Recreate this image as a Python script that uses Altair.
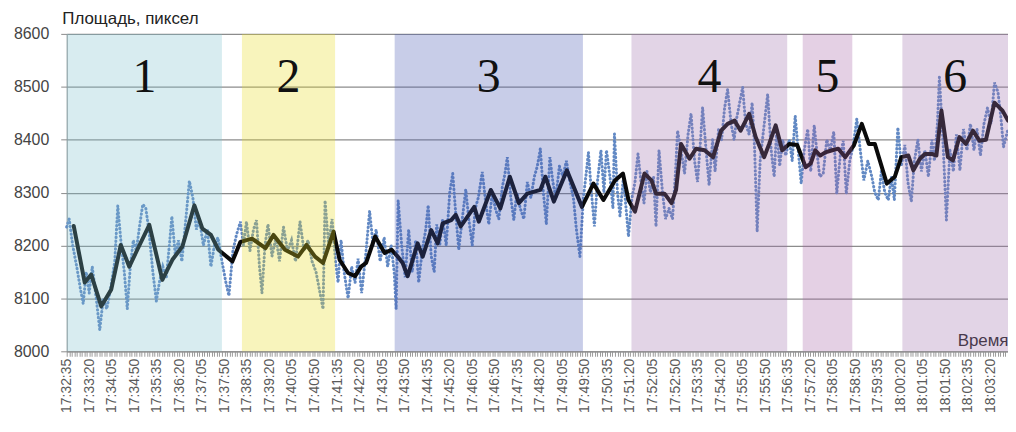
import altair as alt
import pandas as pd

# ---- data ----
START = "17:32:35"          # time of the first sample; offsets below are seconds from it
X_END = 1880                # last second on the axis (18:03:55)

BAND_LABELS = ["1", "2", "3", "4", "5", "6"]
BAND_START = [0, 350, 655, 1128, 1470, 1669]
BAND_END = [310, 536, 1031, 1439, 1569, 1880]
BAND_COLORS = ["#7dc0cd", "#e8da20", "#4858b2", "#9e70ac", "#a562a5", "#9e70ac"]

RAW_T = [0, 5, 12, 20, 27, 33, 39, 45, 51, 59, 66, 73, 80, 88, 96, 102, 109, 115, 121, 127,
         133, 139, 146, 152, 158, 164, 172, 179, 185, 192, 199, 205, 210, 217, 223, 230, 237, 245, 252, 259,
         265, 273, 281, 288, 295, 302, 310, 318, 324, 332, 339, 347, 353, 359, 366, 373, 379, 385, 390, 396,
         402, 410, 418, 425, 433, 441, 449, 457, 466, 474, 482, 490, 498, 504, 512, 516, 523, 530, 537, 542,
         548, 554, 562, 569, 576, 582, 589, 597, 605, 612, 618, 626, 634, 641, 648, 654, 658, 662, 669, 676,
         683, 690, 697, 703, 710, 717, 722, 728, 734, 739, 745, 751, 758, 765, 771, 777, 783, 790, 797, 803,
         810, 816, 822, 830, 837, 843, 850, 856, 863, 870, 876, 880, 887, 893, 899, 906, 913, 920, 927, 934,
         940, 946, 952, 958, 965, 971, 977, 984, 991, 998, 1005, 1012, 1018, 1025, 1032, 1038, 1042, 1048, 1054, 1060,
         1067, 1073, 1078, 1085, 1091, 1094, 1100, 1105, 1112, 1118, 1122, 1129, 1135, 1141, 1147, 1153, 1159, 1166, 1172, 1177,
         1183, 1190, 1196, 1203, 1210, 1216, 1220, 1227, 1234, 1241, 1247, 1254, 1260, 1266, 1270, 1277, 1283, 1290, 1295, 1302,
         1308, 1314, 1320, 1327, 1333, 1338, 1344, 1350, 1356, 1363, 1369, 1374, 1379, 1385, 1392, 1400, 1407, 1413, 1418, 1424,
         1430, 1436, 1443, 1449, 1455, 1461, 1467, 1473, 1480, 1486, 1493, 1498, 1504, 1511, 1518, 1525, 1532, 1538, 1545, 1551,
         1557, 1564, 1571, 1578, 1585, 1592, 1600, 1608, 1614, 1621, 1627, 1634, 1641, 1647, 1653, 1660, 1667, 1674, 1680, 1687,
         1693, 1700, 1707, 1714, 1721, 1728, 1733, 1739, 1743, 1750, 1757, 1764, 1771, 1777, 1784, 1791, 1798, 1805, 1812, 1818,
         1825, 1832, 1839, 1846, 1853, 1860, 1866, 1871, 1880]
RAW_V = [8235, 8250, 8200, 8160, 8120, 8090, 8150, 8110, 8160, 8100, 8040, 8100, 8080, 8120, 8170, 8275, 8200, 8150, 8080, 8160,
         8210, 8190, 8240, 8278, 8270, 8230, 8150, 8095, 8130, 8160, 8140, 8200, 8255, 8180, 8210, 8170, 8240, 8322, 8290, 8230,
         8250, 8200, 8230, 8160, 8200, 8215, 8170, 8130, 8105, 8190, 8220, 8245, 8200, 8245, 8190, 8230, 8248, 8160, 8110, 8200,
         8240, 8180, 8215, 8170, 8235, 8190, 8210, 8170, 8245, 8190, 8210, 8170, 8150, 8120, 8080, 8285, 8200, 8250, 8170, 8130,
         8210, 8150, 8100, 8160, 8130, 8175, 8110, 8180, 8265, 8200, 8230, 8170, 8215, 8160, 8200, 8150, 8080, 8285, 8200, 8140,
         8230, 8150, 8210, 8130, 8190, 8230, 8276, 8180, 8150, 8240, 8200, 8250, 8200, 8300, 8336, 8260, 8192, 8250, 8306, 8250,
         8200, 8270, 8290, 8339, 8280, 8240, 8300, 8270, 8250, 8310, 8340, 8367, 8290, 8248, 8300, 8270, 8250, 8320, 8290, 8330,
         8350, 8383, 8300, 8240, 8367, 8320, 8290, 8350, 8330, 8360, 8320, 8290, 8230, 8179, 8290, 8340, 8376, 8300, 8236, 8320,
         8380, 8300, 8380, 8330, 8270, 8411, 8300, 8256, 8330, 8260, 8217, 8290, 8320, 8373, 8320, 8280, 8340, 8300, 8330, 8236,
         8380, 8300, 8250, 8270, 8250, 8340, 8417, 8380, 8336, 8410, 8449, 8360, 8320, 8400, 8461, 8380, 8314, 8400, 8340, 8420,
         8400, 8460, 8495, 8430, 8400, 8440, 8470, 8499, 8430, 8410, 8470, 8380, 8226, 8360, 8420, 8486, 8380, 8330, 8420, 8350,
         8400, 8370, 8400, 8360, 8445, 8380, 8317, 8380, 8420, 8340, 8427, 8380, 8330, 8336, 8400, 8380, 8415, 8298, 8370, 8398,
         8298, 8360, 8390, 8439, 8380, 8323, 8360, 8330, 8300, 8286, 8340, 8300, 8286, 8330, 8286, 8423, 8350, 8390, 8320, 8283,
         8360, 8400, 8340, 8380, 8330, 8400, 8360, 8430, 8518, 8400, 8248, 8380, 8340, 8410, 8342, 8420, 8380, 8430, 8380, 8420,
         8370, 8430, 8460, 8430, 8508, 8490, 8440, 8386, 8420]

SMOOTH_T = [14, 36, 49, 69, 89, 108, 125, 141, 165, 191, 211, 231, 255, 271, 288, 303, 331, 347, 370, 397,
            413, 436, 462, 479, 496, 512, 533, 545, 562, 576, 588, 598, 616, 635, 649, 661, 671, 681, 701, 711,
            728, 741, 751, 768, 777, 787, 814, 823, 847, 866, 885, 903, 920, 946, 956, 973, 999, 1029, 1052, 1072,
            1095, 1111, 1122, 1135, 1154, 1168, 1177, 1194, 1208, 1217, 1227, 1244, 1257, 1274, 1291, 1307, 1320, 1334, 1346, 1363,
            1376, 1393, 1403, 1416, 1429, 1443, 1459, 1476, 1486, 1495, 1505, 1515, 1529, 1541, 1555, 1572, 1588, 1602, 1614, 1638,
            1654, 1667, 1681, 1691, 1704, 1714, 1728, 1737, 1747, 1760, 1770, 1783, 1796, 1810, 1823, 1836, 1853, 1869, 1880]
SMOOTH_V = [8237, 8130, 8145, 8085, 8117, 8201, 8160, 8192, 8239, 8135, 8173, 8198, 8276, 8232, 8220, 8192, 8170, 8207, 8213, 8195,
            8220, 8192, 8179, 8201, 8179, 8167, 8226, 8173, 8148, 8142, 8160, 8167, 8217, 8186, 8192, 8179, 8167, 8142, 8204, 8179,
            8229, 8204, 8242, 8248, 8258, 8236, 8273, 8245, 8305, 8270, 8330, 8280, 8298, 8305, 8330, 8283, 8342, 8273, 8317, 8286,
            8323, 8336, 8286, 8264, 8336, 8323, 8298, 8298, 8280, 8305, 8392, 8364, 8383, 8380, 8367, 8417, 8430, 8436, 8417, 8449,
            8405, 8367, 8392, 8427, 8380, 8392, 8390, 8348, 8355, 8380, 8370, 8376, 8380, 8383, 8367, 8389, 8430, 8392, 8392, 8317,
            8330, 8367, 8370, 8342, 8364, 8373, 8373, 8370, 8455, 8367, 8361, 8405, 8392, 8417, 8398, 8400, 8470, 8455, 8436]

Y_TITLE = "Площадь, пиксел"
X_TITLE = "Время"

# ---- tables ----
raw = pd.DataFrame({"t": RAW_T, "v": RAW_V})
smooth = pd.DataFrame({"t": SMOOTH_T, "v": SMOOTH_V})
bands = pd.DataFrame({"label": BAND_LABELS, "start": BAND_START, "end": BAND_END, "color": BAND_COLORS})

h0, m0, s0 = (int(p) for p in START.split(":"))
base = h0 * 3600 + m0 * 60 + s0
sec = f"({base}+datum.value)"
label_expr = (
    f"datum.value % 45 == 0 ? "
    f"pad(floor({sec}/3600),2,'0','left') + ':' + "
    f"pad(floor({sec}/60)%60,2,'0','left') + ':' + "
    f"pad({sec}%60,2,'0','left') : ''"
)

FONT = "Liberation Sans"
xscale = alt.Scale(domain=[0, X_END], nice=False, zero=False)
yscale = alt.Scale(domain=[8000, 8600], nice=False, zero=False)

x_axis = alt.Axis(
    values=list(range(0, X_END + 1, 5)),
    labelExpr=label_expr,
    labelAngle=-90,
    labelOverlap=False,
    labelBound=False,
    labelFontSize=14,
    labelColor="#5a5a5a",
    labelPadding=2,
    tickSize=5,
    tickColor="#9a9a9a",
    domainColor="#8a8a8a",
    grid=False,
    title=X_TITLE,
    titleFontSize=17,
    titleFontWeight="normal",
    titleColor="#222222",
    titleAngle=0,
    titleAlign="right",
    titleBaseline="bottom",
    titleX=946,
    titleY=-2,
)
y_axis = alt.Axis(
    values=[8000, 8100, 8200, 8300, 8400, 8500, 8600],
    format="d",
    labelFontSize=16,
    labelColor="#444444",
    labelPadding=12,
    tickSize=6,
    tickColor="#8a8a8a",
    domainColor="#8a8a8a",
    grid=True,
    gridColor="#8c8c8c",
    gridWidth=1.2,
    title=Y_TITLE,
    titleFontSize=17,
    titleFontWeight="normal",
    titleColor="#222222",
    titleAngle=0,
    titleAlign="left",
    titleBaseline="bottom",
    titleX=-5,
    titleY=-6,
)

raw_line = alt.Chart(raw).mark_line(
    color="#6289c4", strokeWidth=3, strokeDash=[0.5, 3.4], strokeCap="round", interpolate="linear"
).encode(
    x=alt.X("t:Q", scale=xscale, axis=x_axis),
    y=alt.Y("v:Q", scale=yscale, axis=y_axis),
)

smooth_line = alt.Chart(smooth).mark_line(
    color="#0a0a0a", strokeWidth=4, strokeJoin="round", strokeCap="round"
).encode(
    x=alt.X("t:Q", scale=xscale, axis=x_axis),
    y=alt.Y("v:Q", scale=yscale, axis=y_axis),
)

band_rects = alt.Chart(bands).mark_rect(opacity=0.3).encode(
    x=alt.X("start:Q", scale=xscale, axis=x_axis),
    x2="end:Q",
    color=alt.Color("color:N", scale=None, legend=None),
)

band_text = alt.Chart(bands).transform_calculate(
    mid="(datum.start + datum.end) / 2"
).mark_text(
    font="Liberation Serif", fontSize=48, color="#111111", baseline="middle", align="center"
).encode(
    x=alt.X("mid:Q", scale=xscale, axis=x_axis),
    y=alt.value(44),
    text="label:N",
)

chart = alt.layer(raw_line, smooth_line, band_rects, band_text).properties(
    width=946,
    height=319,
    autosize=alt.AutoSizeParams(type="none"),
    padding={"left": 59, "top": 25, "right": 0, "bottom": 63},
).configure_view(stroke=None).configure_axis(
    labelFont=FONT, titleFont=FONT
)

chart.save("out.html", embed_options={"renderer": "svg", "actions": False})
